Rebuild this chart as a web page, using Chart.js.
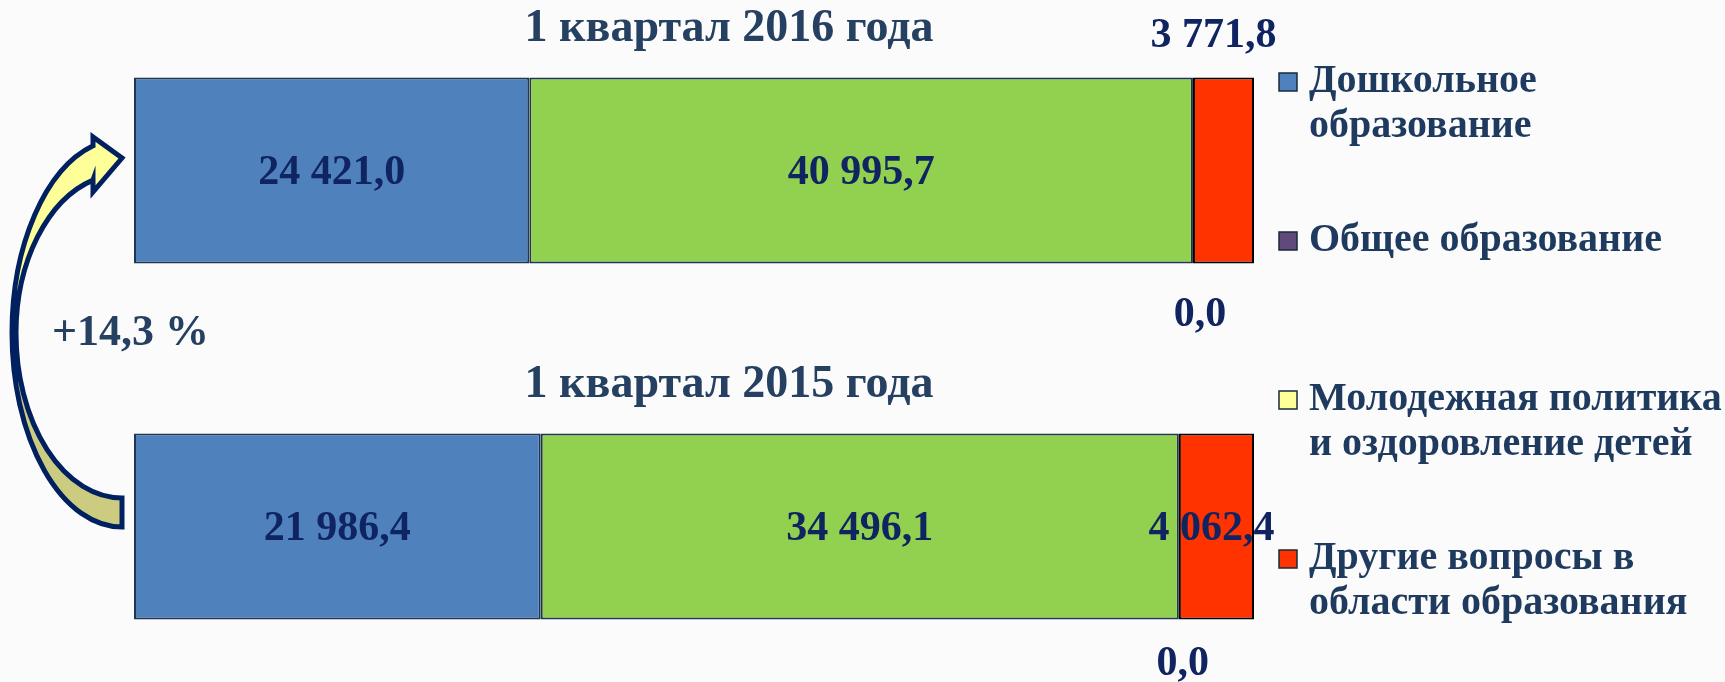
<!DOCTYPE html>
<html lang="ru">
<head>
<meta charset="utf-8">
<title>Расходы на образование</title>
<script src="https://cdn.jsdelivr.net/npm/chart.js@4.4.1/dist/chart.umd.min.js"></script>
<style>
  html, body { margin: 0; padding: 0; background: #fbfbfb; }
  .wrap { position: relative; width: 1725px; height: 682px; }
</style>
</head>
<body>
<div class="wrap"><canvas id="eduChart"></canvas></div>
<script>
const periods = ['1 квартал 2016 года', '1 квартал 2015 года'];
const seriesNames = [
    'Дошкольное\nобразование',
    'Общее образование',
    'Молодежная политика\nи оздоровление детей',
    'Другие вопросы в\nобласти образования'
];
const preschool = [24421.0, 21986.4];
const general = [40995.7, 34496.1];
const youth = [0.0, 0.0];
const other = [3771.8, 4062.4];

const series = [preschool, general, youth, other];
const totals = periods.map((_, i) => series.reduce((sum, arr) => sum + arr[i], 0));
const growth = (totals[0] / totals[1] - 1) * 100;
const toShare = arr => arr.map((v, i) => v / totals[i] * 100);

const fmt = v => {
    const [whole, dec] = v.toFixed(1).split('.');
    return whole.replace(/\B(?=(\d{3})+(?!\d))/g, ' ') + ',' + dec;
};

const FONT = '"Liberation Serif", "DejaVu Serif", serif';
const fills = ['#4F81BD', '#92D050', '#FFFF99', '#FF3300'];
const legendFills = ['#4F81BD', '#604A7B', '#FFFF99', '#FF3300'];
const edges = ['#1F3550', '#1F3550', '#1F3550', '#000000'];

// label placement per dataset, per bar: [mode, dx, dy]
const labelPlace = [
    [['center', 0, 3], ['center', 0, 3]],
    [['center', 0, 3], ['center', 0, 3]],
    [['below', 7, 52], ['below', 4, 45]],
    [['above', -10, -41], ['center', -5, 3]]
];

function drawArrow(ctx) {
    ctx.save();
    ctx.beginPath();
    ctx.ellipse(122, 333, 110, 194, 0, Math.PI / 2, 4.446, false);
    ctx.lineTo(93, 137);
    ctx.lineTo(122, 158);
    ctx.lineTo(93, 192);
    ctx.lineTo(93, 180);
    ctx.ellipse(122, 333, 106, 159, 0, 4.435, Math.PI, true);
    ctx.ellipse(122, 333, 106, 165, 0, Math.PI, Math.PI / 2, true);
    ctx.closePath();
    const g = ctx.createLinearGradient(0, 140, 0, 530);
    g.addColorStop(0, '#FFFF99');
    g.addColorStop(0.49, '#FFFF99');
    g.addColorStop(0.5, '#CCCC80');
    g.addColorStop(1, '#CCCC80');
    ctx.fillStyle = g;
    ctx.fill();
    ctx.lineWidth = 5;
    ctx.strokeStyle = '#002060';
    ctx.stroke();
    ctx.restore();
}

const decorations = {
    id: 'decorations',
    afterDatasetsDraw(chart) {
        const ctx = chart.ctx;
        const area = chart.chartArea;
        ctx.save();
        ctx.textAlign = 'center';
        ctx.textBaseline = 'middle';

        // period titles above each bar
        ctx.font = 'bold 46px ' + FONT;
        ctx.fillStyle = '#254061';
        chart.getDatasetMeta(0).data.forEach((bar, i) => {
            ctx.fillText(periods[i], (area.left + area.right) / 2 + 35, bar.y - bar.height / 2 - 48);
        });

        // value labels
        ctx.font = 'bold 42px ' + FONT;
        ctx.fillStyle = '#0F2461';
        chart.data.datasets.forEach((ds, d) => {
            chart.getDatasetMeta(d).data.forEach((bar, i) => {
                const [mode, dx, dy] = labelPlace[d][i];
                let y = bar.y;
                if (mode === 'above') y = bar.y - bar.height / 2;
                if (mode === 'below') y = bar.y + bar.height / 2;
                ctx.fillText(fmt(series[d][i]), (bar.x + bar.base) / 2 + dx, y + dy);
            });
        });

        // legend
        ctx.textAlign = 'left';
        ctx.font = 'bold 40px ' + FONT;
        const lx = area.right + 25;
        seriesNames.forEach((name, k) => {
            const y0 = 82 + k * 159;
            ctx.fillStyle = legendFills[k];
            ctx.fillRect(lx, y0 - 9, 18, 18);
            ctx.lineWidth = 1.5;
            ctx.strokeStyle = '#1A2A3A';
            ctx.strokeRect(lx, y0 - 9, 18, 18);
            ctx.fillStyle = '#1F3A5F';
            name.split('\n').forEach((line, j) => ctx.fillText(line, lx + 30, y0 + j * 45));
        });

        // growth note and arrow
        drawArrow(ctx);
        ctx.font = 'bold 44px ' + FONT;
        ctx.fillStyle = '#254061';
        ctx.fillText('+' + growth.toFixed(1).replace('.', ',') + ' %', 52, 334);
        ctx.restore();
    }
};

new Chart(document.getElementById('eduChart'), {
    type: 'bar',
    data: {
        labels: periods,
        datasets: series.map((arr, k) => ({
            label: seriesNames[k].replace('\n', ' '),
            data: toShare(arr),
            backgroundColor: fills[k],
            borderColor: edges[k],
            borderWidth: k === 2 ? 0 : 2,
            borderSkipped: false,
            clip: false
        }))
    },
    options: {
        indexAxis: 'y',
        responsive: true,
        maintainAspectRatio: false,
        animation: false,
        barPercentage: 1,
        categoryPercentage: 0.5225,
        layout: { padding: { left: 134, right: 471, top: 170.5, bottom: 155.5 } },
        scales: {
            x: { stacked: true, min: 0, max: 100, display: false },
            y: { stacked: true, offset: false, display: false }
        },
        plugins: {
            legend: { display: false },
            tooltip: { enabled: false }
        }
    },
    plugins: [decorations]
});
</script>
</body>
</html>
